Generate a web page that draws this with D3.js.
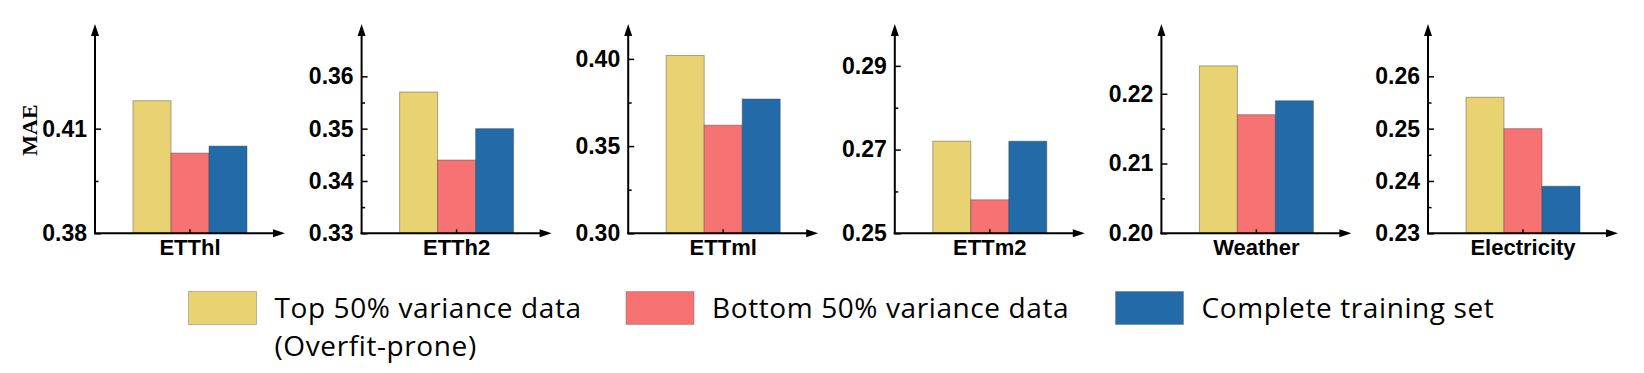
<!DOCTYPE html>
<html>
<head>
<meta charset="utf-8">
<script src="https://cdn.jsdelivr.net/npm/d3@7"></script>
<style>
  body { margin: 0; background: #fff; }
</style>
</head>
<body>
<div class="chart"></div>
<script>
// chart values
const datasets = ['ETThl', 'ETTh2', 'ETTml', 'ETTm2', 'Weather', 'Electricity'];
const seriesKeys = ['top', 'bottom', 'full'];
const seriesColors = ['#E8D272', '#F77272', '#226BA8'];
const legendLines = [
  ['Top 50% variance data', '(Overfit-prone)'],
  ['Bottom 50% variance data'],
  ['Complete training set']
];
const topHalf = [0.418, 0.357, 0.402, 0.272, 0.224, 0.256];
const bottomHalf = [0.403, 0.344, 0.362, 0.258, 0.217, 0.250];
const fullSet = [0.405, 0.350, 0.377, 0.272, 0.219, 0.239];

// axis limits and tick labels per panel
const yMins = [0.38, 0.33, 0.30, 0.25, 0.20, 0.23];
const yMaxs = [0.44, 0.37, 0.42, 0.30, 0.23, 0.27];
const majorTicks = [
  [0.38, 0.41],
  [0.33, 0.34, 0.35, 0.36],
  [0.30, 0.35, 0.40],
  [0.25, 0.27, 0.29],
  [0.20, 0.21, 0.22],
  [0.23, 0.24, 0.25, 0.26]
];
const minorTicks = [
  [0.395],
  [0.335, 0.345, 0.355],
  [0.325, 0.375],
  [0.26, 0.28],
  [0.205, 0.215],
  [0.235, 0.245, 0.255]
];
const yLabel = 'MAE';

(function() {

  let svgContainer = "";

  window.onload = function() {
    svgContainer = d3.select('.chart').append('svg')
      .attr('width', 1644)
      .attr('height', 373);

    let values = [topHalf, bottomHalf, fullSet];

    // one small panel per dataset
    let panelX = d3.scalePoint()
      .domain(datasets)
      .range([95, 1428]);

    datasets.forEach((name, i) => {
      let ax = panelX(name);
      drawPanel(name, i, ax, values.map((s) => s[i]));
    });

    // y label, first panel only
    svgContainer.append('text')
      .attr('transform', 'translate(29, 130)rotate(-90)')
      .attr('text-anchor', 'middle')
      .attr('dominant-baseline', 'central')
      .style('font-family', '"Liberation Serif", "Times New Roman", serif')
      .style('font-weight', 'bold')
      .style('font-size', '22px')
      .text(yLabel);

    drawLegend();
  }

  function drawPanel(name, i, ax, vals) {
    let baseY = 233.3;
    let topY = 24;
    let axisLen = 190;

    let yScale = d3.scaleLinear()
      .domain([yMins[i], yMaxs[i]])
      .range([baseY, topY]);

    let xScale = d3.scaleBand()
      .domain(seriesKeys)
      .range([ax + 38, ax + 152]);

    let g = svgContainer.append('g');

    // bars
    g.selectAll('rect')
      .data(vals)
      .enter()
      .append('rect')
        .attr('x', (d, j) => xScale(seriesKeys[j]))
        .attr('y', (d) => yScale(d))
        .attr('width', xScale.bandwidth())
        .attr('height', (d) => baseY - yScale(d))
        .attr('fill', (d, j) => seriesColors[j])
        .attr('stroke', 'rgba(70,70,70,0.45)')
        .attr('stroke-width', 1);

    // major ticks point inward
    let yAxis = d3.axisLeft(yScale)
      .tickValues(majorTicks[i])
      .tickFormat(d3.format('.2f'))
      .tickSizeInner(-6)
      .tickSizeOuter(0)
      .tickPadding(8);

    g.append('g')
      .attr('transform', 'translate(' + ax + ',0)')
      .call(yAxis)
      .call((s) => s.select('.domain').remove())
      .call((s) => s.selectAll('line').attr('stroke', '#000').attr('stroke-width', 1.5))
      .call((s) => s.selectAll('text')
        .attr('fill', '#000')
        .style('font-family', '"Liberation Sans", Arial, sans-serif')
        .style('font-weight', 'bold')
        .style('font-size', '23px'));

    let yMinor = d3.axisLeft(yScale)
      .tickValues(minorTicks[i])
      .tickFormat('')
      .tickSizeInner(-3.5)
      .tickSizeOuter(0);

    g.append('g')
      .attr('transform', 'translate(' + ax + ',0)')
      .call(yMinor)
      .call((s) => s.select('.domain').remove())
      .call((s) => s.selectAll('line').attr('stroke', '#000').attr('stroke-width', 1.5));

    // axis lines with arrow heads
    let tipY = yScale(yMaxs[i]);
    let tipX = ax + axisLen;

    g.append('line')
      .attr('x1', ax).attr('y1', baseY + 1)
      .attr('x2', ax).attr('y2', tipY + 8)
      .attr('stroke', '#000')
      .attr('stroke-width', 2);

    g.append('path')
      .attr('d', 'M' + ax + ',' + tipY + 'L' + (ax - 4) + ',' + (tipY + 12) +
        'L' + (ax + 4) + ',' + (tipY + 12) + 'Z')
      .attr('fill', '#000');

    g.append('line')
      .attr('x1', ax - 1).attr('y1', baseY)
      .attr('x2', tipX - 8).attr('y2', baseY)
      .attr('stroke', '#000')
      .attr('stroke-width', 2);

    g.append('path')
      .attr('d', 'M' + tipX + ',' + baseY + 'L' + (tipX - 12) + ',' + (baseY - 4) +
        'L' + (tipX - 12) + ',' + (baseY + 4) + 'Z')
      .attr('fill', '#000');

    // category tick and label
    let cx = ax + 38 + (xScale.range()[1] - xScale.range()[0]) / 2;
    g.append('line')
      .attr('x1', cx).attr('y1', baseY)
      .attr('x2', cx).attr('y2', baseY - 4)
      .attr('stroke', '#000')
      .attr('stroke-width', 1.5);

    g.append('text')
      .attr('x', cx)
      .attr('y', 255)
      .attr('text-anchor', 'middle')
      .style('font-family', '"Liberation Sans", Arial, sans-serif')
      .style('font-weight', 'bold')
      .style('font-size', '22px')
      .text(name);
  }

  function drawLegend() {
    let slots = [188.5, 626, 1115.5];

    let legend = svgContainer.selectAll('.legendItem')
      .data(legendLines)
      .enter()
      .append('g')
        .attr('class', 'legendItem')
        .attr('transform', (d, j) => 'translate(' + slots[j] + ', 291.5)');

    legend.append('rect')
      .attr('width', 68)
      .attr('height', 33)
      .attr('fill', (d, j) => seriesColors[j])
      .attr('stroke', 'rgba(120,120,120,0.5)')
      .attr('stroke-width', 1);

    legend.each(function(lines) {
      lines.forEach((line, k) => {
        d3.select(this).append('text')
          .attr('x', 86)
          .attr('y', 26 + k * 38)
          .style('font-family', '"Open Sans", "Noto Sans", sans-serif')
          .style('font-size', '28px')
          .style('letter-spacing', '0.6px')
          .attr('fill', '#000')
          .text(line);
      });
    });
  }

})();
</script>
</body>
</html>
